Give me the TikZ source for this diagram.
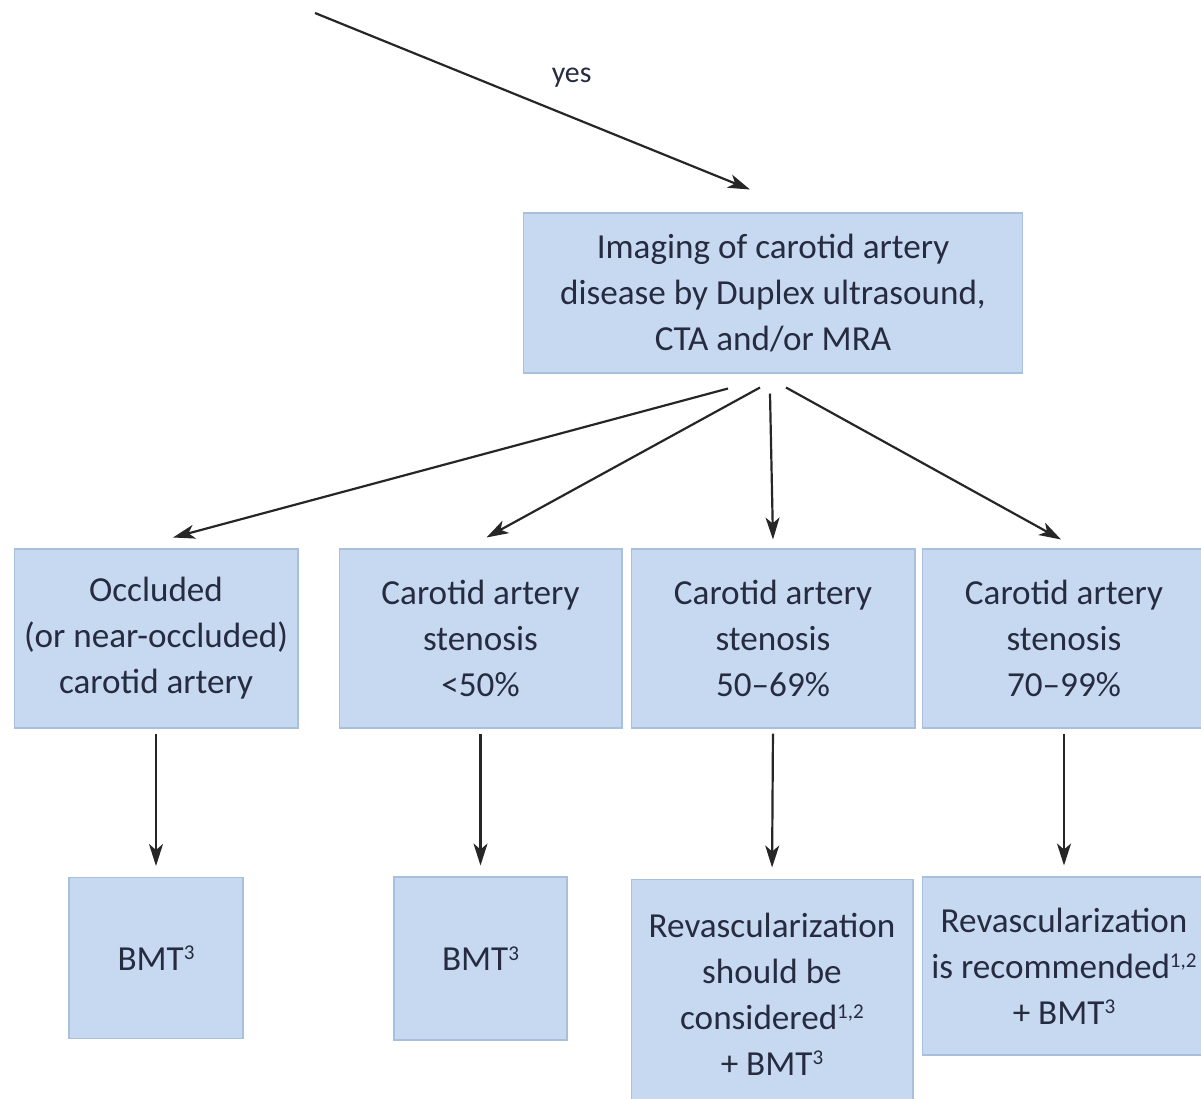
\documentclass[tikz,border=0pt]{standalone}
\usepackage{fontspec}
\setmainfont{Carlito}
\usepackage{tikz}
\usetikzlibrary{arrows.meta}
\definecolor{BoxFill}{HTML}{C6D9F0}
\definecolor{BoxEdge}{HTML}{A9C0DD}
\definecolor{InkText}{HTML}{262B40}
\newcommand{\fnmark}[1]{\raisebox{0.62ex}{\fontsize{12}{12}\selectfont #1}}

\begin{document}
\begin{tikzpicture}[x=0.02cm, y=-0.02cm,
  box/.style={draw=BoxEdge, fill=BoxFill, line width=0.6pt, text=InkText, align=center, inner sep=0pt, font=\fontsize{20}{26.2}\selectfont},
  arr/.style={-{Stealth[length=0.44cm, width=0.28cm, inset=0.12cm]}, line width=1.25pt, black!85}]
  \clip (0,0) rectangle (1201,1099);

  % imaging box
  \node[box, minimum width=10cm, minimum height=3.2cm] (imaging) at (773,293) {Imaging of carotid artery\\disease by Duplex ultrasound,\\CTA and/or MRA};

  % incoming arrow
  \coordinate (entry) at (315,13);
  \draw[arr] (entry) -- node[pos=0.59, above=0.45cm, text=InkText, font=\fontsize{17}{20}\selectfont] (yeslbl) {yes} ([shift={(-23,-23)}]imaging.north);

  % stenosis grades
  \node[box, minimum width=5.68cm, minimum height=3.58cm] (occl) at (156,638.5) {Occluded\\(or near-occluded)\\carotid artery};
  \node[box, minimum width=5.66cm, minimum height=3.58cm] (lt50) at (480.5,638.5) {Carotid artery\\stenosis\\<50\%};
  \node[box, minimum width=5.68cm, minimum height=3.58cm] (mid) at (773,638.5) {Carotid artery\\stenosis\\50--69\%};
  \node[box, minimum width=5.68cm, minimum height=3.58cm] (high) at (1064,638.5) {Carotid artery\\stenosis\\70--99\%};

  \draw[arr] ([shift={(-45,15)}]imaging.south) -- ([shift={(17,-11)}]occl.north);
  \draw[arr] ([shift={(-13,14)}]imaging.south) -- ([shift={(6,-11)}]lt50.north);
  \draw[arr] ([shift={(-3,20)}]imaging.south) -- ([shift={(0,-9)}]mid.north);
  \draw[arr] ([shift={(13,14)}]imaging.south) -- ([shift={(-3,-9)}]high.north);

  % treatment
  \node[box, minimum width=3.48cm, minimum height=3.22cm] (bmtA) at (156,958) {BMT\fnmark{3}};
  \node[box, minimum width=3.46cm, minimum height=3.26cm] (bmtB) at (480.5,958.5) {BMT\fnmark{3}};
  \node[box, minimum width=5.64cm, minimum height=4.6cm] (revCons) at (772,994) {Revascularization\\should be\\considered\fnmark{1,2}\\+ BMT\fnmark{3}};
  \node[box, minimum width=5.68cm, minimum height=3.56cm] (revRec) at (1064,966) {Revascularization\\is recommended\fnmark{1,2}\\+ BMT\fnmark{3}};

  \draw[arr, shorten <=0.1cm, shorten >=0.22cm] (occl.south) -- (bmtA.north);
  \draw[arr, shorten <=0.1cm, shorten >=0.22cm] (lt50.south) -- (bmtB.north);
  \draw[arr, shorten <=0.1cm, shorten >=0.22cm] (mid.south) -- (revCons.north);
  \draw[arr, shorten <=0.1cm, shorten >=0.22cm] (high.south) -- (revRec.north);
\end{tikzpicture}
\end{document}
